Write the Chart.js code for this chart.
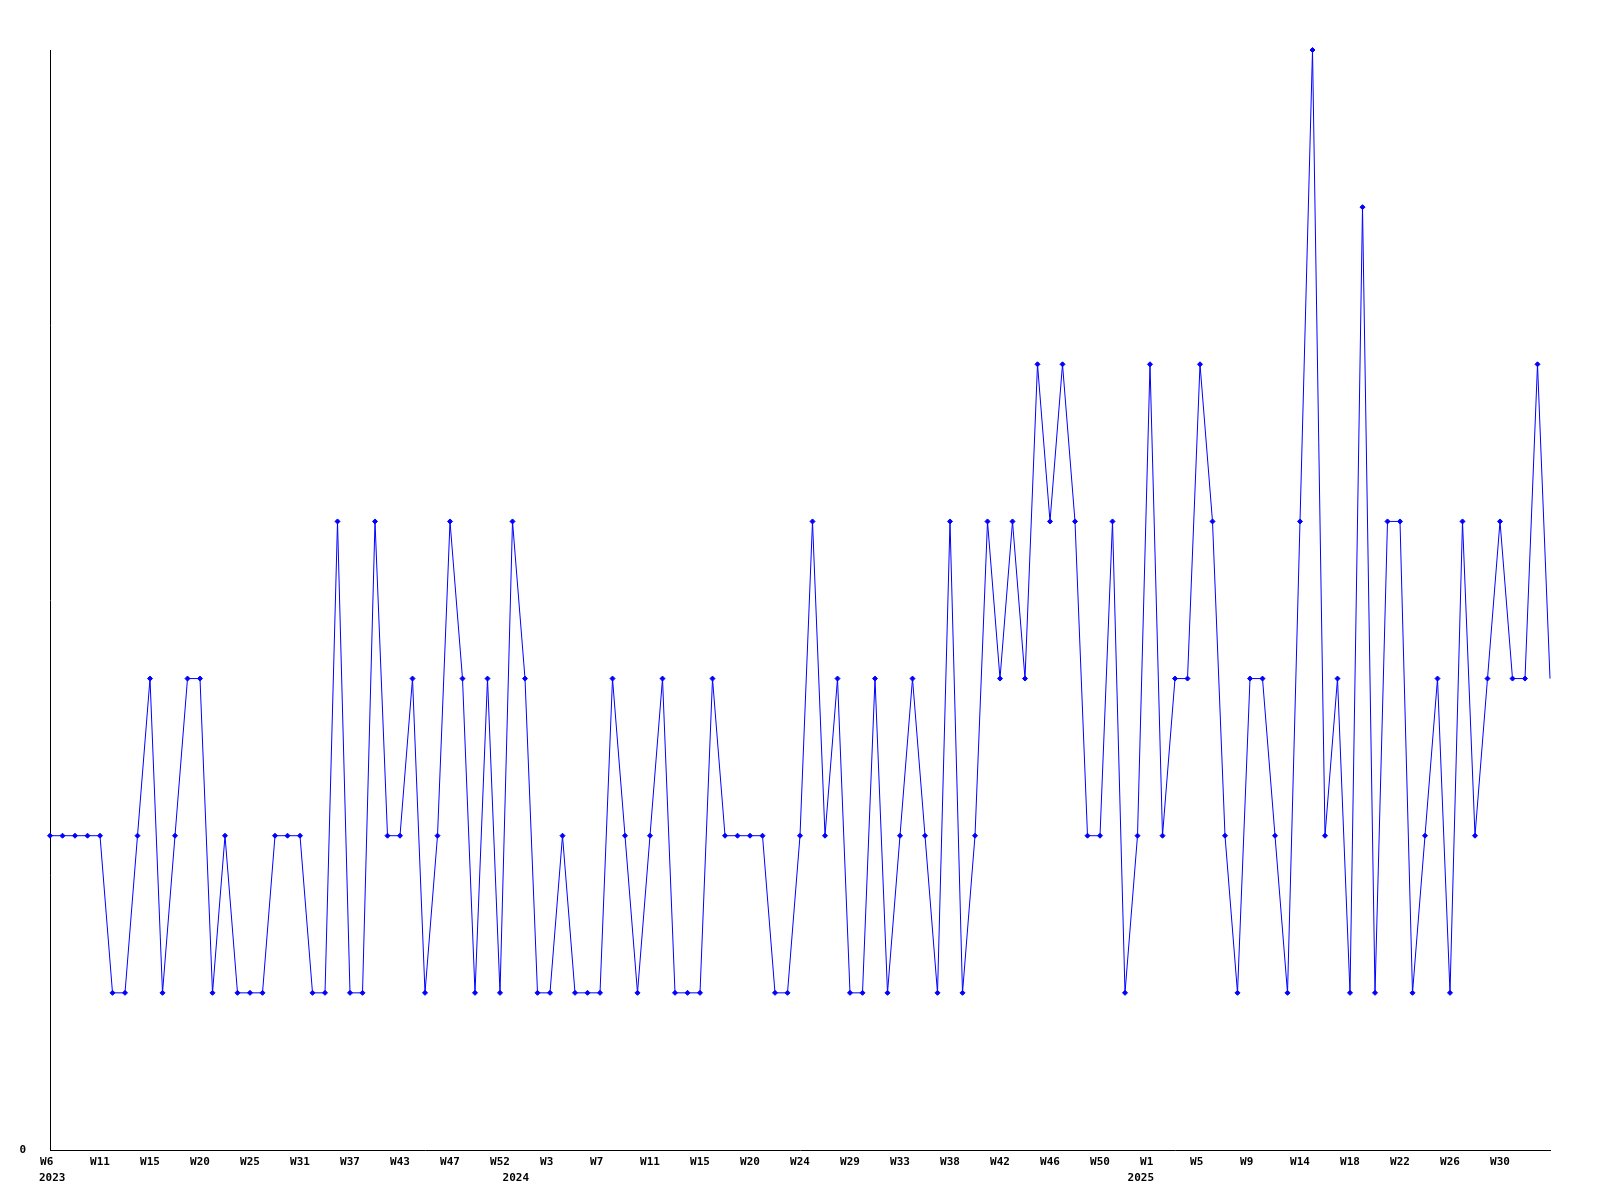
<!DOCTYPE html>
<html>
<meta charset="utf-8">
<head>
    <title>Weekly count</title>
    <script src="https://cdn.jsdelivr.net/npm/chart.js@4.4.0/dist/chart.umd.min.js"></script>
    <style>
    body {
        margin: 0;
        background: #ffffff;
    }
    canvas {
        display: block;
    }
    </style>
</head>

<body>
    <canvas id="weekChart" width="1600" height="1200"></canvas>

    <script>
        // week numbers per year (weeks with nothing are missing)
        var years = ['2023', '2024', '2025'];
        var weeks2023 = [6, 7, 8, 9, 11, 12, 13, 14, 15, 16, 17, 19, 20, 21, 22, 23, 25, 26, 28, 29,
                         31, 32, 34, 35, 37, 38, 40, 41, 43, 44, 45, 46, 47, 48, 49, 51, 52, 53];
        var weeks2024 = [1, 2, 3, 4, 5, 6, 7, 8, 9, 10, 11, 12, 13, 14, 15, 16, 17, 18, 20, 21,
                         22, 23, 24, 25, 26, 28, 29, 30, 31, 32, 33, 34, 35, 37, 38, 39, 40, 41, 42, 43,
                         44, 45, 46, 47, 48, 49, 50, 51, 52, 53];
        var weeks2025 = [1, 2, 3, 4, 5, 6, 7, 8, 9, 10, 11, 13, 14, 15, 16, 17, 18, 19, 20, 21,
                         22, 23, 24, 25, 26, 27, 28, 29, 30, 31, 32, 33, 34];

        // count per week
        var counts = [2, 2, 2, 2, 2, 1, 1, 2, 3, 1, 2, 3, 3, 1, 2, 1, 1, 1, 2, 2,
                      2, 1, 1, 4, 1, 1, 4, 2, 2, 3, 1, 2, 4, 3, 1, 3, 1, 4, 3, 1,
                      1, 2, 1, 1, 1, 3, 2, 1, 2, 3, 1, 1, 1, 3, 2, 2, 2, 2, 1, 1,
                      2, 4, 2, 3, 1, 1, 3, 1, 2, 3, 2, 1, 4, 1, 2, 4, 3, 4, 3, 5,
                      4, 5, 4, 2, 2, 4, 1, 2, 5, 2, 3, 3, 5, 4, 2, 1, 3, 3, 2, 1,
                      4, 7, 2, 3, 1, 6, 1, 4, 4, 1, 2, 3, 1, 4, 2, 3, 4, 3, 3, 5, 3];

        var yMax = 7;
        var labelEvery = 4;

        var labels = [];
        var yearOf = [];
        [weeks2023, weeks2024, weeks2025].forEach(function (list, y) {
            list.forEach(function (w) {
                labels.push('W' + w);
                yearOf.push(years[y]);
            });
        });

        var monoFont = {family: 'DejaVu Sans Mono', size: 11, weight: 'bold'};

        // year under the first week of every year
        var yearLabels = {
            id: 'yearLabels',
            afterDraw: function (chart) {
                var ctx = chart.ctx;
                var xs = chart.scales.x;
                ctx.save();
                ctx.font = 'bold 11px "DejaVu Sans Mono"';
                ctx.fillStyle = '#000000';
                ctx.textAlign = 'left';
                ctx.textBaseline = 'alphabetic';
                for (var i = 0; i < yearOf.length; i++) {
                    if (i > 0 && yearOf[i] === yearOf[i - 1]) continue;
                    var txt = yearOf[i];
                    var w = ctx.measureText(txt).width;
                    var px = xs.getPixelForValue(i);
                    var left = Math.max(px + 4 - w, xs.left - 11);
                    ctx.fillText(txt, left, xs.top + 31);
                }
                ctx.restore();
            }
        };

        var ctx = document.getElementById('weekChart').getContext('2d');
        window.myChart = new Chart(ctx, {
            type: 'line',
            data: {
                labels: labels,
                datasets: [{
                    data: counts,
                    borderColor: '#0000ff',
                    backgroundColor: '#0000ff',
                    borderWidth: 1,
                    tension: 0,
                    clip: false,
                    pointStyle: 'rectRot',
                    pointRadius: function (c) {
                        return c.dataIndex === counts.length - 1 ? 0 : 2.5;
                    },
                    pointBorderWidth: 1,
                    pointHoverRadius: 2.5
                }]
            },
            options: {
                responsive: false,
                animation: false,
                events: [],
                layout: {
                    padding: {top: 50, right: 50, left: 0, bottom: 0}
                },
                plugins: {
                    legend: {display: false},
                    tooltip: {enabled: false}
                },
                scales: {
                    x: {
                        type: 'category',
                        offset: false,
                        grid: {display: false, drawTicks: false},
                        border: {display: true, color: '#000000', width: 1},
                        ticks: {
                            autoSkip: false,
                            maxRotation: 0,
                            padding: 6,
                            color: '#000000',
                            font: monoFont,
                            callback: function (value, index) {
                                if (index % labelEvery !== 0 || index === labels.length - 1) return '';
                                return labels[index].padEnd(3, ' ');
                            }
                        },
                        afterFit: function (scale) {
                            scale.height = 50;
                        }
                    },
                    y: {
                        min: 0,
                        max: yMax,
                        grid: {display: false, drawTicks: false},
                        border: {display: true, color: '#000000', width: 1},
                        ticks: {
                            stepSize: 1,
                            padding: 24,
                            color: '#000000',
                            font: monoFont,
                            callback: function (v) {
                                return v === 0 ? '0' : '';
                            }
                        },
                        afterFit: function (scale) {
                            scale.width = 50;
                        }
                    }
                }
            },
            plugins: [yearLabels]
        });
    </script>
</body>

</html>
